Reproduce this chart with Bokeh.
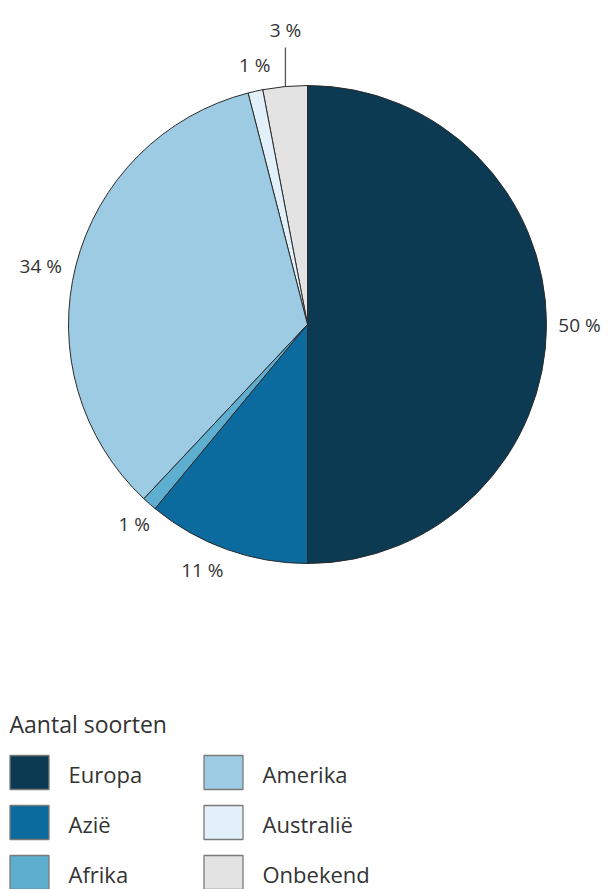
import numpy as np
from bokeh.plotting import figure
from bokeh.models import Range1d, ColumnDataSource
from bokeh.core.properties import value
from bokeh.embed import file_html
from bokeh.resources import INLINE

# data (counter-clockwise from 12 o'clock)
regions = ["Onbekend", "Australië", "Amerika", "Afrika", "Azië", "Europa"]
shares = [3, 1, 34, 1, 11, 50]
labels = ["3 %", "1 %", "34 %", "1 %", "11 %", "50 %"]
colors = ["#e3e3e3", "#e2f1f9", "#9ccbe3", "#5eaed0", "#0b6a9e", "#0b3a52"]

legend_title = "Aantal soorten"
legend_order = ["Europa", "Azië", "Afrika", "Amerika", "Australië", "Onbekend"]

W, H = 608, 889
p = figure(width=W, height=H, output_backend="svg", toolbar_location=None,
           x_range=Range1d(0, W), y_range=Range1d(H, 0),
           min_border=0, outline_line_color=None, background_fill_color="white")
p.axis.visible = False
p.grid.visible = False

cx, cy, R = 307, 324, 239
vals = np.array(shares, dtype=float)
frac = vals / vals.sum()
ends = np.pi / 2 + 2 * np.pi * np.cumsum(frac)
starts = ends - 2 * np.pi * frac
src = ColumnDataSource(dict(start=starts, end=ends, color=colors))
p.wedge(x=cx, y=cy, radius=R, start_angle="start", end_angle="end",
        fill_color="color", line_color="#2b2b2b", line_width=1, source=src)

mids = (starts + ends) / 2
dist = [56, 26, 34, 25, 28, 33]
mid_adj = np.radians([-1.1, -1.1, 2.1, 0.4, -3.4, 0.0])
lx = [cx + (R + d) * np.cos(m + a) for d, m, a in zip(dist, mids, mid_adj)]
ly = [cy - (R + d) * np.sin(m + a) for d, m, a in zip(dist, mids, mid_adj)]
p.text(x=lx, y=ly, text=labels, text_align="center", text_baseline="middle",
       text_font=value("Open Sans"), text_font_size="19px", text_color="#333333")

# leader line for the small top label (vertical)
m0 = mids[0] + np.radians(-0.1)
x_lead = cx + R * np.cos(m0)
p.segment(x0=x_lead, y0=cy - R * np.sin(m0), x1=x_lead, y1=cy - (R + 38),
          line_color="#555555", line_width=1.3)

# legend
p.text(x=[9], y=[723], text=[legend_title], text_align="left", text_baseline="middle",
       text_font=value("Open Sans"), text_font_size="23px", text_color="#333333")
col_of = {r: c for r, c in zip(regions, colors)}
sx = [29 if i < 3 else 223 for i in range(6)]
sy = [772 + 50 * (i % 3) for i in range(6)]
p.rect(x=sx, y=sy, width=39, height=34,
       fill_color=[col_of[r] for r in legend_order], line_color="#7a7a7a", line_width=1.3)
p.text(x=[s + 39 for s in sx], y=[y + 1 for y in sy], text=legend_order, text_align="left",
       text_baseline="middle", text_font=value("Open Sans"), text_font_size="22px",
       text_color="#333333")

open("out.html", "w").write(file_html(p, INLINE))
